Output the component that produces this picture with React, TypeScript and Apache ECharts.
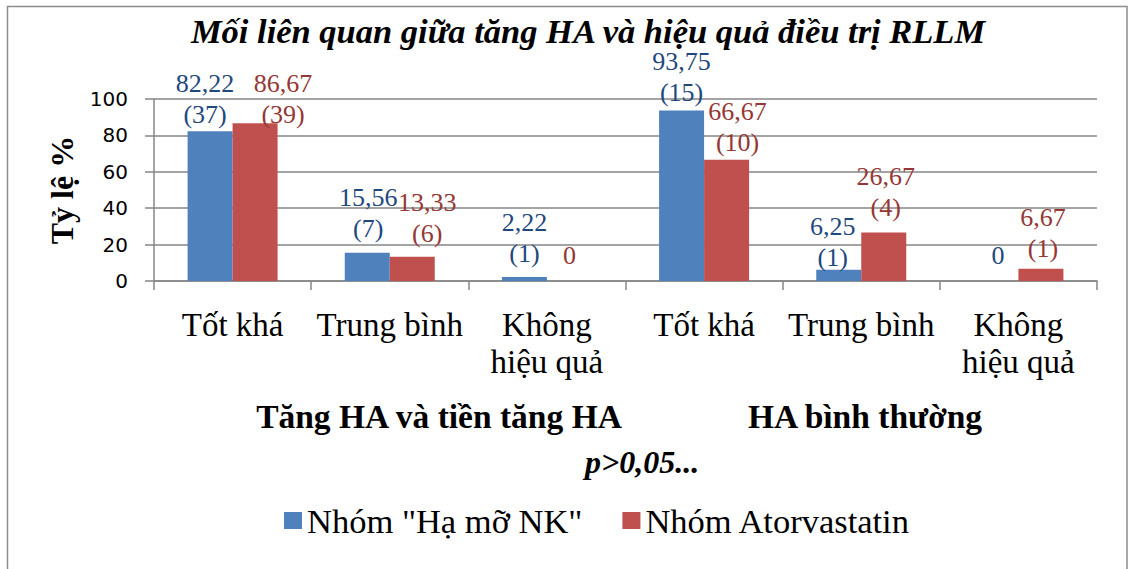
import React, { useEffect, useRef } from "react";
import * as echarts from "echarts";

const categories = ["Tốt khá", "Trung bình", "Không hiệu quả", "Tốt khá", "Trung bình", "Không hiệu quả"];
const seriesNames = ['Nhóm "Hạ mỡ NK"', "Nhóm Atorvastatin"];
const herbalValues = [82.22, 15.56, 2.22, 93.75, 6.25, 0];
const herbalCounts = [37, 7, 1, 15, 1, 0];
const atorValues = [86.67, 13.33, 0, 66.67, 26.67, 6.67];
const atorCounts = [39, 6, 0, 10, 4, 1];
const groupLabels = ["Tăng HA và tiền tăng HA", "HA bình thường"];
const titleText = "Mối liên quan giữa tăng HA và hiệu quả điều trị RLLM";
const yAxisTitle = "Tỷ lệ %";
const pText = "p>0,05...";

// label nudges (px) to mimic manual placement in the original
const herbalLabelOffsets = [[-5, -1], [1, -9], [0, -8], [0, -2], [-6, 3], [2, -10]];
const atorLabelOffsets = [[28, 7], [15, -8], [0, -10], [11, -2], [2, -9], [2, -5]];

const SERIF = "'Liberation Serif', 'Times New Roman', serif";

function fmt(v: number, c: number) {
  const s = String(v).replace(".", ",");
  return v === 0 ? s : `${s}\n(${c})`;
}

export default function App() {
  const ref = useRef<HTMLDivElement>(null);
  useEffect(() => {
    if (!ref.current) return;
    const chart = echarts.init(ref.current, undefined, { renderer: "svg" });
    const mk = (vals: number[], offs: number[][]) =>
      vals.map((v, i) => ({ value: v, label: { offset: offs[i] } }));
    chart.setOption({
      animation: false,
      backgroundColor: "#fff",
      grid: { left: 154, right: 31, top: 99, bottom: 288, containLabel: false },
      legend: {
        data: seriesNames,
        left: 284,
        top: 502,
        padding: 0,
        icon: "rect",
        itemWidth: 18,
        itemHeight: 17,
        itemGap: 40,
        textStyle: { fontFamily: SERIF, fontSize: 34.5, color: "#000", lineHeight: 37 },
      },
      xAxis: {
        type: "category",
        data: categories,
        axisLine: { show: true, lineStyle: { color: "#868686", width: 1.5 } },
        axisTick: { show: true, length: 9, alignWithLabel: false, lineStyle: { color: "#868686", width: 1.5 } },
        axisLabel: {
          interval: 0,
          margin: 25,
          fontFamily: SERIF,
          fontSize: 33,
          lineHeight: 37,
          color: "#000",
          formatter: (v: string) => (v === "Không hiệu quả" ? "Không\nhiệu quả" : v),
        },
      },
      yAxis: {
        type: "value",
        min: 0,
        max: 100,
        interval: 20,
        axisLine: { show: true, lineStyle: { color: "#868686", width: 1.5 } },
        axisTick: { show: true, length: 9, lineStyle: { color: "#868686", width: 1.5 } },
        splitLine: { show: true, lineStyle: { color: "#868686", width: 1.5 } },
        axisLabel: { margin: 26, fontFamily: "'DejaVu Sans', sans-serif", fontSize: 20, color: "#000" },
      },
      series: [
        {
          name: seriesNames[0],
          type: "bar",
          barWidth: 45,
          barGap: "0%",
          itemStyle: { color: "#4F81BD" },
          label: {
            show: true,
            position: "top",
            distance: 0,
            fontFamily: SERIF,
            fontSize: 26,
            lineHeight: 31,
            color: "#1F497D",
            formatter: (p: any) => fmt(herbalValues[p.dataIndex], herbalCounts[p.dataIndex]),
          },
          data: mk(herbalValues, herbalLabelOffsets),
        },
        {
          name: seriesNames[1],
          type: "bar",
          barWidth: 45,
          barGap: "0%",
          itemStyle: { color: "#C0504D" },
          label: {
            show: true,
            position: "top",
            distance: 0,
            fontFamily: SERIF,
            fontSize: 26,
            lineHeight: 31,
            color: "#953735",
            formatter: (p: any) => fmt(atorValues[p.dataIndex], atorCounts[p.dataIndex]),
          },
          data: mk(atorValues, atorLabelOffsets),
        },
      ],
      graphic: [
        {
          type: "rect",
          shape: { x: 7.5, y: 6.5, width: 1119.5, height: 620 },
          style: { fill: "none", stroke: "#8c8c8c", lineWidth: 1.5 },
          silent: true,
        },
        {
          type: "text",
          x: 588,
          y: 31,
          style: {
            text: titleText,
            fontFamily: SERIF,
            fontSize: 34.5,
            fontWeight: "bold",
            fontStyle: "italic",
            fill: "#000",
            align: "center",
            verticalAlign: "middle",
          },
        },
        {
          type: "text",
          x: 62,
          y: 190,
          rotation: Math.PI / 2,
          style: {
            text: yAxisTitle,
            fontFamily: SERIF,
            fontSize: 32,
            fontWeight: "bold",
            fill: "#000",
            align: "center",
            verticalAlign: "middle",
          },
        },
        {
          type: "text",
          x: 439,
          y: 416,
          style: {
            text: groupLabels[0],
            fontFamily: SERIF,
            fontSize: 33.5,
            fontWeight: "bold",
            fill: "#000",
            align: "center",
            verticalAlign: "middle",
          },
        },
        {
          type: "text",
          x: 865,
          y: 416,
          style: {
            text: groupLabels[1],
            fontFamily: SERIF,
            fontSize: 33.5,
            fontWeight: "bold",
            fill: "#000",
            align: "center",
            verticalAlign: "middle",
          },
        },
        {
          type: "text",
          x: 642,
          y: 462,
          style: {
            text: pText,
            fontFamily: SERIF,
            fontSize: 32,
            fontWeight: "bold",
            fontStyle: "italic",
            fill: "#000",
            align: "center",
            verticalAlign: "middle",
          },
        },
      ],
    });
    return () => chart.dispose();
  }, []);
  return (
    <div
      ref={ref}
      style={{ position: "fixed", left: 0, top: 0, width: 1128, height: 569, background: "#fff" }}
    />
  );
}
